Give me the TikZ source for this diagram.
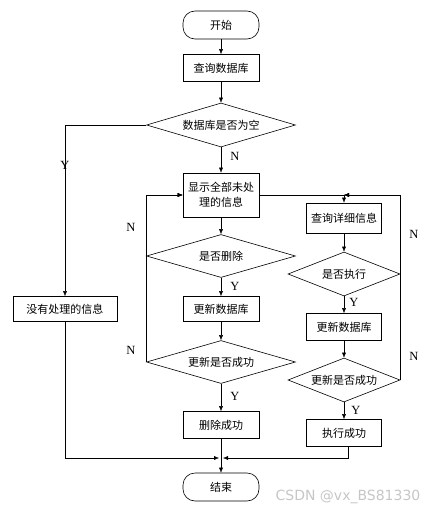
\documentclass[tikz,border=0pt]{standalone}
\usepackage{fontspec}
\setmainfont{Liberation Serif}
\newfontfamily\cjk{Noto Sans CJK SC}
\newfontfamily\marksans{DejaVu Sans}
\usetikzlibrary{shapes.geometric,arrows.meta}

\tikzset{
  box/.style={draw,semithick,minimum width=76pt,minimum height=27pt,inner sep=1pt,
    align=center,font=\cjk\fontsize{11}{15}\selectfont},
  term/.style={box,rounded corners=12pt,minimum height=28pt},
  test/.style={draw,semithick,diamond,aspect=3.4,inner sep=0pt,minimum width=149pt,
    minimum height=44pt,font=\cjk\fontsize{11}{15}\selectfont},
  flow/.style={thin,arrows=-{Latex[length=5pt,width=4pt]}},
  lbl/.style={font=\fontsize{12.5}{12.5}\selectfont}
}

\begin{document}
\begin{tikzpicture}[x=1pt,y=-1pt]
\useasboundingbox (0,0) rectangle (438,514);
% main column
\node[term] (start) at (221,25) {开始};
\node[box] (query) at (221,68) {查询数据库};
\node[test] (empty) at (221,125) {数据库是否为空};
\node[box,minimum height=44pt] (show) at (221,195) {显示全部未处\\理的信息};
\node[test,minimum height=43pt] (del) at (221,256) {是否删除};
\node[box,minimum height=25pt] (upd1) at (221,309) {更新数据库};
\node[test,minimum height=43pt] (ok1) at (221,362) {更新是否成功};
\node[box] (done1) at (221,425) {删除成功};
\node[term] (stop) at (221,487) {结束};
% left branch
\node[box,minimum width=104pt,minimum height=25pt] (none) at (65,309) {没有处理的信息};
% right column
\node[box,minimum width=75pt,minimum height=30pt] (detail) at (344,218) {查询详细信息};
\node[test,minimum width=112pt] (exec) at (344,274) {是否执行};
\node[box,minimum width=75pt] (upd2) at (344,327) {更新数据库};
\node[test,minimum width=112pt] (ok2) at (344,380) {更新是否成功};
\node[box,minimum width=75pt] (done2) at (344,433) {执行成功};
\coordinate (rjoin) at (344,195);
\coordinate (merge) at (221,458);

\draw[flow] (start) -- (query);
\draw[flow] (query) -- (empty);
\draw[flow] (empty) -- (show);
\draw[flow] (empty.west) -| (none.north);
\draw[flow] (show) -- (del);
\draw[flow] (del) -- (upd1);
\draw[flow] (upd1) -- (ok1);
\draw[flow] (ok1) -- (done1);
\draw[flow] (done1) -- (stop);
\draw[flow] (del.west) |- (show.west);
\draw[flow] (ok1.west) |- (show.west);
\draw[flow] (show.east) -| (detail.north);
\draw[flow] (detail) -- (exec);
\draw[flow] (exec) -- (upd2);
\draw[flow] (upd2) -- (ok2);
\draw[flow] (ok2) -- (done2);
\draw[flow] (exec.east) |- (rjoin);
\draw[flow] (ok2.east) |- (rjoin);
\draw[flow] (none.south) |- ([xshift=-2pt]merge);
\draw[flow] ([xshift=4pt]done2.south) |- ([xshift=2pt]merge);

% branch labels
\node[lbl] (yempty) at (65,165) {Y};
\node[lbl] (nempty) at (235,156) {N};
\node[lbl] (ndel) at (131,227) {N};
\node[lbl] (nok1) at (131,350) {N};
\node[lbl] (ydel) at (235,286) {Y};
\node[lbl] (yok1) at (235,396) {Y};
\node[lbl] (nexec) at (414,234) {N};
\node[lbl] (nok2) at (414,356) {N};
\node[lbl] (yexec) at (354,302) {Y};
\node[lbl] (yok2) at (356,410) {Y};

\node[font=\marksans\fontsize{14}{14}\selectfont,text=gray!45] (mark) at (348,497) {CSDN @vx\_BS81330};
\end{tikzpicture}
\end{document}
